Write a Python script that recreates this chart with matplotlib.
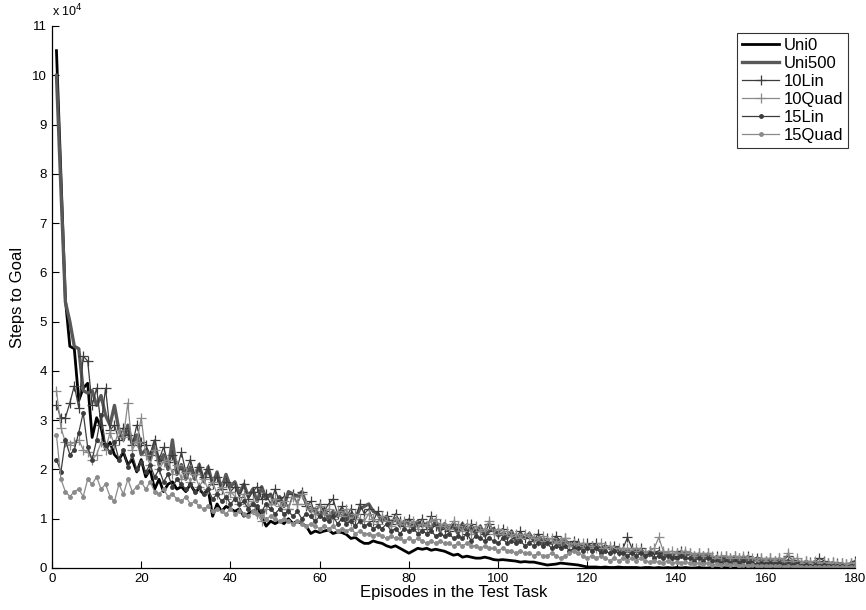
import matplotlib
matplotlib.use("Agg")
import matplotlib.pyplot as plt
import numpy as np

plt.rcParams["font.family"] = ["Liberation Sans", "DejaVu Sans"]

# steps to goal per test episode, in units of 10^4 steps
episodes = np.arange(1, 181)

uni0 = [
    10.5, 8.0, 5.45, 4.5, 4.45, 3.4, 3.65, 3.75, 2.65, 3.05,
    2.85, 2.4, 2.55, 2.3, 2.2, 2.35, 2.1, 2.2, 1.95, 2.2,
    1.85, 2.0, 1.6, 1.8, 1.55, 1.7, 1.75, 1.6, 1.65, 1.55,
    1.7, 1.55, 1.6, 1.5, 1.6, 1.05, 1.3, 1.15, 1.25, 1.2,
    1.15, 1.2, 1.05, 1.1, 1.15, 1.2, 1.05, 0.85, 0.95, 0.9,
    0.95, 0.9, 1.0, 0.9, 0.95, 0.9, 0.85, 0.7, 0.75, 0.72,
    0.75, 0.77, 0.7, 0.73, 0.72, 0.68, 0.6, 0.62, 0.55, 0.5,
    0.5, 0.55, 0.52, 0.5, 0.45, 0.42, 0.45, 0.4, 0.35, 0.3,
    0.35, 0.4, 0.38, 0.4, 0.36, 0.38, 0.36, 0.34, 0.3, 0.26,
    0.28, 0.22, 0.24, 0.22, 0.2, 0.2, 0.22, 0.2, 0.17, 0.16,
    0.17, 0.16, 0.15, 0.14, 0.12, 0.13, 0.12, 0.12, 0.1, 0.08,
    0.06, 0.07, 0.08, 0.1, 0.09, 0.08, 0.07, 0.06, 0.04, 0.02,
    0.02, 0.02, 0.01, 0.02, 0.01, 0.01, 0.02, 0.01, 0.01, 0.01,
    0.01, 0.0, 0.01, 0.01, 0.0, 0.01, 0.0, 0.01, 0.0, 0.01,
    0.0, 0.01, 0.0, 0.0, 0.01, 0.0, 0.0, 0.01, 0.0, 0.0,
    0.01, 0.0, 0.0, 0.0, 0.01, 0.0, 0.0, 0.0, 0.0, 0.01,
    0.0, 0.0, 0.0, 0.0, 0.0, 0.01, 0.0, 0.0, 0.0, 0.0,
    0.0, 0.0, 0.0, 0.0, 0.0, 0.0, 0.0, 0.0, 0.0, 0.0,
]

uni500 = [
    10.0, 7.7, 5.4, 5.0, 4.5, 4.45, 3.6, 3.55, 3.6, 3.3,
    3.5, 3.1, 2.9, 3.3, 2.8, 2.6, 2.9, 2.5, 2.7, 2.3,
    2.4, 2.2, 2.55, 2.1, 2.3, 2.0, 2.6, 1.9, 2.1, 1.8,
    2.05, 1.8, 2.1, 1.75, 2.05, 1.7, 1.95, 1.6, 1.9, 1.65,
    1.75, 1.5, 1.7, 1.45, 1.6, 1.35, 1.65, 1.4, 1.5, 1.3,
    1.45, 1.25, 1.55, 1.5, 1.45, 1.55, 1.3, 1.15, 1.2, 1.05,
    1.2, 1.0, 1.15, 1.05, 1.2, 0.95, 1.1, 1.0, 1.2, 1.25,
    1.3, 1.15, 1.1, 0.95, 1.05, 0.9, 1.0, 0.85, 0.95, 0.9,
    0.8, 0.95, 0.85, 0.9, 0.8, 0.95, 0.75, 0.9, 0.8, 0.85,
    0.7, 0.9, 0.75, 0.8, 0.7, 0.85, 0.65, 0.75, 0.8, 0.65,
    0.7, 0.6, 0.75, 0.55, 0.65, 0.6, 0.7, 0.55, 0.6, 0.5,
    0.55, 0.5, 0.6, 0.45, 0.55, 0.5, 0.45, 0.5, 0.4, 0.45,
    0.4, 0.45, 0.35, 0.45, 0.4, 0.35, 0.4, 0.3, 0.35, 0.3,
    0.35, 0.3, 0.3, 0.25, 0.3, 0.3, 0.25, 0.3, 0.25, 0.2,
    0.3, 0.25, 0.3, 0.2, 0.25, 0.2, 0.25, 0.2, 0.2, 0.15,
    0.2, 0.15, 0.2, 0.15, 0.2, 0.15, 0.15, 0.2, 0.15, 0.1,
    0.15, 0.1, 0.15, 0.1, 0.15, 0.1, 0.12, 0.1, 0.08, 0.1,
    0.12, 0.08, 0.1, 0.08, 0.1, 0.06, 0.08, 0.06, 0.08, 0.05,
]

lin10 = [
    3.3, 3.05, 3.05, 3.35, 3.7, 3.25, 4.3, 4.2, 3.3, 3.65,
    2.9, 3.65, 2.8, 2.9, 2.6, 2.85, 2.7, 2.5, 2.9, 2.55,
    2.5, 2.3, 2.6, 2.2, 2.45, 2.15, 2.3, 2.0, 2.35, 1.95,
    2.2, 1.9, 2.05, 1.85, 2.0, 1.7, 1.85, 1.6, 1.75, 1.55,
    1.65, 1.45, 1.7, 1.4, 1.55, 1.65, 1.4, 1.5, 1.3, 1.6,
    1.35, 1.45, 1.2, 1.5, 1.3, 1.55, 1.25, 1.35, 1.1, 1.3,
    1.15, 1.3, 1.4, 1.1, 1.25, 1.05, 1.2, 1.0, 1.3, 1.1,
    1.2, 0.95, 1.15, 1.0, 1.05, 0.9, 1.1, 0.95, 0.85, 1.0,
    0.9, 0.85, 1.0, 0.8, 1.05, 0.85, 0.9, 0.8, 0.75, 0.9,
    0.8, 0.85, 0.7, 0.9, 0.75, 0.8, 0.7, 0.9, 0.75, 0.7,
    0.8, 0.65, 0.7, 0.6, 0.75, 0.6, 0.65, 0.55, 0.7, 0.55,
    0.6, 0.5, 0.65, 0.55, 0.6, 0.45, 0.55, 0.5, 0.45, 0.5,
    0.45, 0.5, 0.4, 0.45, 0.4, 0.45, 0.35, 0.4, 0.62, 0.4,
    0.35, 0.4, 0.3, 0.35, 0.3, 0.35, 0.3, 0.3, 0.25, 0.3,
    0.35, 0.3, 0.3, 0.25, 0.3, 0.25, 0.3, 0.2, 0.25, 0.2,
    0.25, 0.2, 0.25, 0.2, 0.2, 0.25, 0.15, 0.2, 0.2, 0.15,
    0.2, 0.15, 0.2, 0.15, 0.25, 0.15, 0.15, 0.1, 0.15, 0.12,
    0.12, 0.2, 0.15, 0.1, 0.12, 0.1, 0.1, 0.08, 0.1, 0.15,
]

quad10 = [
    3.6, 2.85, 2.55, 2.5, 2.55, 2.6, 2.4, 2.35, 2.2, 2.3,
    2.55, 2.4, 2.75, 2.5, 2.8, 2.65, 3.35, 2.4, 2.55, 3.05,
    2.3, 2.1, 2.4, 2.0, 2.15, 2.2, 1.9, 2.1, 1.8, 1.95,
    1.75, 1.9, 1.65, 1.8, 1.6, 1.75, 1.5, 1.65, 1.4, 1.55,
    1.45, 1.3, 1.5, 1.25, 1.35, 1.1, 0.95, 1.2, 1.3, 1.4,
    1.25, 1.35, 1.2, 1.45, 1.3, 1.5, 1.3, 1.2, 1.1, 1.25,
    1.1, 1.2, 1.0, 1.15, 1.05, 1.2, 0.95, 1.1, 1.0, 0.95,
    1.1, 1.0, 0.9, 1.05, 0.95, 0.85, 1.0, 0.9, 0.95, 0.85,
    0.95, 0.8, 0.9, 0.85, 0.95, 1.0, 0.85, 0.9, 0.8, 0.95,
    0.85, 0.75, 0.9, 0.7, 0.85, 0.75, 0.8, 0.95, 0.7, 0.8,
    0.7, 0.75, 0.65, 0.7, 0.6, 0.7, 0.65, 0.6, 0.55, 0.65,
    0.55, 0.6, 0.5, 0.55, 0.6, 0.45, 0.5, 0.45, 0.5, 0.4,
    0.45, 0.4, 0.5, 0.4, 0.45, 0.35, 0.4, 0.35, 0.4, 0.35,
    0.4, 0.35, 0.3, 0.35, 0.4, 0.62, 0.35, 0.3, 0.35, 0.3,
    0.3, 0.35, 0.3, 0.25, 0.3, 0.25, 0.3, 0.25, 0.2, 0.25,
    0.25, 0.2, 0.25, 0.2, 0.25, 0.2, 0.2, 0.15, 0.2, 0.15,
    0.2, 0.15, 0.2, 0.15, 0.3, 0.15, 0.2, 0.1, 0.15, 0.1,
    0.15, 0.1, 0.12, 0.1, 0.12, 0.08, 0.1, 0.08, 0.1, 0.1,
]

lin15 = [
    2.2, 1.95, 2.6, 2.3, 2.4, 2.75, 3.15, 2.45, 2.2, 2.6,
    3.1, 2.5, 2.35, 2.55, 2.2, 2.4, 2.05, 2.3, 2.0, 2.15,
    1.95, 2.1, 1.85, 2.0, 1.75, 1.9, 1.65, 1.8, 1.7, 1.6,
    1.7, 1.55, 1.65, 1.5, 1.6, 1.4, 1.5, 1.35, 1.45, 1.3,
    1.4, 1.3, 1.35, 1.2, 1.3, 1.25, 1.15, 1.3, 1.2, 1.1,
    1.2, 1.1, 1.15, 1.05, 1.15, 1.0, 1.1, 1.05, 0.95, 1.05,
    1.0, 0.95, 1.05, 0.9, 1.0, 0.9, 0.95, 0.85, 0.95, 0.85,
    0.9, 0.8, 0.85, 0.8, 0.9, 0.75, 0.8, 0.7, 0.8, 0.75,
    0.8, 0.7, 0.75, 0.7, 0.75, 0.65, 0.7, 0.65, 0.7, 0.6,
    0.65, 0.6, 0.7, 0.55, 0.65, 0.6, 0.55, 0.6, 0.55, 0.5,
    0.6, 0.5, 0.55, 0.5, 0.55, 0.45, 0.5, 0.45, 0.5, 0.45,
    0.5, 0.4, 0.45, 0.4, 0.45, 0.35, 0.4, 0.4, 0.35, 0.4,
    0.35, 0.4, 0.3, 0.35, 0.3, 0.35, 0.3, 0.3, 0.25, 0.3,
    0.25, 0.3, 0.25, 0.3, 0.2, 0.25, 0.2, 0.25, 0.2, 0.2,
    0.25, 0.2, 0.2, 0.15, 0.2, 0.15, 0.2, 0.15, 0.15, 0.1,
    0.15, 0.1, 0.15, 0.1, 0.15, 0.1, 0.1, 0.08, 0.1, 0.08,
    0.1, 0.08, 0.1, 0.06, 0.08, 0.06, 0.08, 0.05, 0.06, 0.05,
    0.06, 0.05, 0.06, 0.04, 0.05, 0.04, 0.05, 0.03, 0.04, 0.03,
]

quad15 = [
    2.7, 1.8, 1.55, 1.45, 1.55, 1.6, 1.45, 1.8, 1.7, 1.85,
    1.6, 1.7, 1.45, 1.35, 1.7, 1.5, 1.8, 1.55, 1.65, 1.75,
    1.6, 1.75, 1.55, 1.5, 1.6, 1.45, 1.5, 1.4, 1.35, 1.45,
    1.3, 1.35, 1.25, 1.2, 1.25, 1.15, 1.2, 1.15, 1.1, 1.2,
    1.1, 1.15, 1.1, 1.05, 1.15, 1.1, 1.05, 1.0, 1.05, 1.0,
    0.95, 1.0, 0.95, 0.9, 0.95, 0.9, 0.85, 0.9, 0.85, 0.8,
    0.85, 0.8, 0.85, 0.75, 0.8, 0.75, 0.8, 0.7, 0.75, 0.7,
    0.7, 0.65, 0.7, 0.65, 0.6, 0.65, 0.6, 0.6, 0.55, 0.6,
    0.55, 0.6, 0.55, 0.5, 0.55, 0.5, 0.55, 0.5, 0.5, 0.45,
    0.5, 0.45, 0.5, 0.45, 0.45, 0.4, 0.45, 0.4, 0.4, 0.35,
    0.4, 0.35, 0.35, 0.3, 0.35, 0.3, 0.3, 0.25, 0.3, 0.25,
    0.25, 0.3, 0.25, 0.2, 0.25, 0.3, 0.35, 0.3, 0.25, 0.2,
    0.25, 0.2, 0.25, 0.2, 0.15, 0.2, 0.15, 0.2, 0.15, 0.2,
    0.15, 0.2, 0.15, 0.12, 0.15, 0.12, 0.1, 0.15, 0.1, 0.12,
    0.1, 0.12, 0.1, 0.08, 0.1, 0.08, 0.1, 0.06, 0.08, 0.06,
    0.08, 0.06, 0.08, 0.05, 0.06, 0.05, 0.06, 0.04, 0.05, 0.04,
    0.05, 0.04, 0.05, 0.03, 0.04, 0.03, 0.04, 0.03, 0.03, 0.02,
    0.03, 0.02, 0.03, 0.02, 0.03, 0.02, 0.02, 0.02, 0.03, 0.02,
]

DARK = "#3c3c3c"
LIGHT = "#8a8a8a"

fig = plt.figure(figsize=(8.66, 6.10), dpi=100)
ax = fig.add_axes([52 / 866, 42 / 610, 803 / 866, 542 / 610])

ax.plot(episodes, uni0, color="black", lw=2.0, label="Uni0")
ax.plot(episodes, uni500, color="#585858", lw=2.4, label="Uni500")
ax.plot(episodes, lin10, color=DARK, lw=0.9, marker="+", ms=7, mew=0.9, label="10Lin")
ax.plot(episodes, quad10, color=LIGHT, lw=0.9, marker="+", ms=7, mew=0.9, label="10Quad")
ax.plot(episodes, lin15, color=DARK, lw=0.9, marker=".", ms=5, label="15Lin")
ax.plot(episodes, quad15, color=LIGHT, lw=0.9, marker=".", ms=5, label="15Quad")

ax.set_xlim(0, 180)
ax.set_ylim(0, 11)
ax.set_xticks(range(0, 181, 20))
ax.set_yticks(range(0, 12))
ax.tick_params(direction="in", length=5, width=0.8, labelsize=9.5, top=False, right=False)
ax.spines[["top", "right"]].set_visible(False)
for s in ("left", "bottom"):
    ax.spines[s].set_linewidth(0.9)

ax.set_xlabel("Episodes in the Test Task", fontsize=12, labelpad=0)
ax.set_ylabel("Steps to Goal", fontsize=12, labelpad=5)
ax.text(0.0, 1.012, r"x 10$^4$", transform=ax.transAxes, fontsize=9, va="bottom", ha="left")

leg = ax.legend(loc="upper right", fontsize=12, frameon=True, fancybox=False,
                handlelength=2.2, handletextpad=0.3, labelspacing=0.18,
                borderpad=0.3, borderaxespad=0.4)
leg.get_frame().set_edgecolor("black")
leg.get_frame().set_linewidth(0.8)

fig.savefig("out.png", dpi=100)
